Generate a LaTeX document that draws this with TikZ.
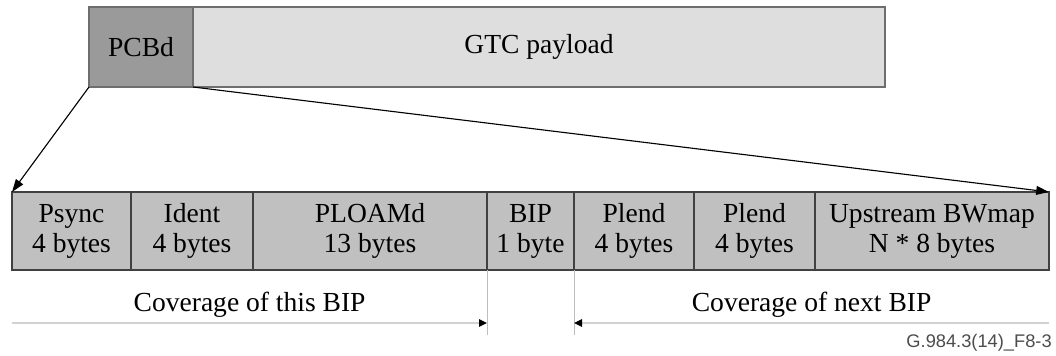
\documentclass[tikz,border=0pt]{standalone}
\usepackage{fontspec}
\setmainfont{Liberation Serif}
\newfontfamily\labelfont{Liberation Sans}
\usetikzlibrary{positioning,arrows.meta}

\definecolor{pcbdgray}{HTML}{9A9A9A}
\definecolor{paygray}{HTML}{DEDEDE}
\definecolor{fieldgray}{HTML}{C0C0C0}
\definecolor{edgegray}{HTML}{6E6E6E}
\definecolor{covgray}{HTML}{D2D2D2}
\definecolor{guidegray}{HTML}{BDBDBD}

\newcommand{\fieldfont}{\fontsize{19.6}{21.3}\selectfont}

\tikzset{
  topbox/.style={draw=edgegray, line width=1.3pt, inner sep=0pt, outer sep=0pt,
    minimum height=2cm, anchor=west, font=\fieldfont},
  fieldbox/.style={draw=black!75, line width=1.1pt, fill=fieldgray, inner sep=0pt,
    outer sep=0pt, minimum height=1.95cm, align=center, font=\fieldfont},
  fieldarrow/.style={-{Triangle[length=0.32cm,width=0.22cm]}, line width=0.8pt},
  covline/.style={draw=covgray, line width=1.8pt,
    -{Triangle[length=0.2cm,width=0.18cm,color=black]}},
  guide/.style={draw=guidegray, line width=0.5pt}
}

\begin{document}
\begin{tikzpicture}
\useasboundingbox (0,0) rectangle (26.4,-8.9);

% GTC frame
\node[topbox, fill=pcbdgray, minimum width=2.6cm] (pcbd) at (2.225,-1.175) {PCBd};
\node[topbox, fill=paygray, minimum width=17.3cm, right=0pt of pcbd] (payload) {GTC payload};

% PCBd fields
\node[fieldbox, minimum width=2.975cm, anchor=north west] (psync) at (0.3,-4.8) {Psync\\4 bytes};
\node[fieldbox, minimum width=3.05cm, right=0pt of psync] (ident) {Ident\\4 bytes};
\node[fieldbox, minimum width=5.85cm, right=0pt of ident] (ploamd) {PLOAMd\\13 bytes};
\node[fieldbox, minimum width=2.175cm, right=0pt of ploamd] (bip) {BIP\\1 byte};
\node[fieldbox, minimum width=3.0cm, right=0pt of bip] (plendA) {Plend\\4 bytes};
\node[fieldbox, minimum width=3.025cm, right=0pt of plendA] (plendB) {Plend\\4 bytes};
\node[fieldbox, minimum width=5.85cm, right=0pt of plendB] (bwmap) {Upstream BWmap\\N * 8 bytes};

% expansion
\draw[fieldarrow] (pcbd.south west) -- (psync.north west);
\draw[fieldarrow] (pcbd.south east) -- (bwmap.north east);

% BIP coverage
\coordinate (thisstart) at (psync.south west |- 0,-8.075);
\coordinate (thisend) at (bip.south west |- 0,-8.075);
\coordinate (nextstart) at (bwmap.south east |- 0,-8.075);
\coordinate (nextend) at (plendA.south west |- 0,-8.075);
\coordinate (thisfoot) at (bip.south west |- 0,-8.375);
\coordinate (nextfoot) at (plendA.south west |- 0,-8.375);

\draw[guide] (bip.south west) -- (thisfoot);
\draw[guide] (plendA.south west) -- (nextfoot);
\draw[covline] (thisstart) -- (thisend);
\draw[covline] (nextstart) -- (nextend);

\node[font=\fieldfont] (covthis) at (6.24,-7.625) {Coverage of this BIP};
\node[font=\fieldfont] (covnext) at (20.29,-7.625) {Coverage of next BIP};

\node[font=\labelfont\fontsize{13}{15}\selectfont, text=black!70, anchor=east, inner sep=0pt] (figref) at (26.3,-8.575) {G.984.3(14)\_F8-3};
\end{tikzpicture}
\end{document}
